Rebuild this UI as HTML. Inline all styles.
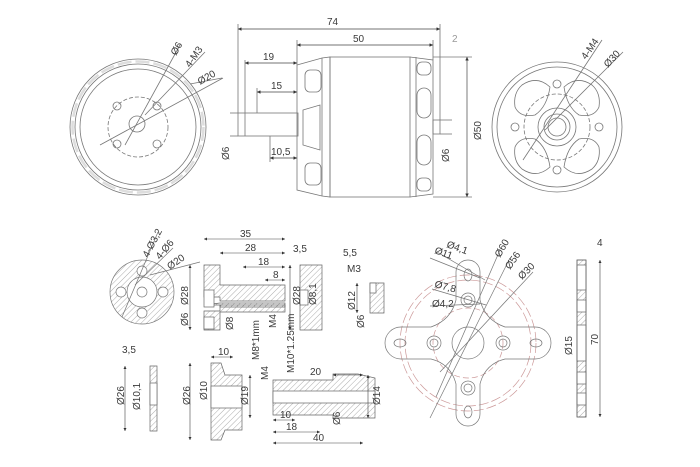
<!DOCTYPE html>
<html><head><meta charset="utf-8"><style>
html,body{margin:0;padding:0;background:#fff}
svg{display:block}
text{font-family:"Liberation Sans",sans-serif;font-size:10px;fill:#3a3a3a}
</style></head><body>
<svg width="700" height="467" viewBox="0 0 700 467" xmlns="http://www.w3.org/2000/svg">
<defs>
<pattern id="h" width="4" height="4" patternUnits="userSpaceOnUse" patternTransform="rotate(45)"><line x1="0" y1="0" x2="0" y2="4" stroke="#888" stroke-width="0.7"/></pattern>
<marker id="a" viewBox="0 0 6 6" refX="6" refY="3" markerWidth="5" markerHeight="5" orient="auto-start-reverse"><path d="M0,0L6,3L0,6z" fill="#333"/></marker>
</defs>
<g fill="none" stroke="#777" stroke-width="0.8">
<!-- left front view -->
<circle cx="138" cy="127" r="68"/><circle cx="138" cy="127" r="63"/><circle cx="138" cy="127" r="58"/>
<circle cx="138" cy="127" r="65.5" stroke-dasharray="14,4" stroke-width="2.5" stroke="#ddd"/>
<circle cx="138" cy="127" r="30" stroke-dasharray="4,2"/>
<circle cx="137" cy="124" r="8"/>
<circle cx="117" cy="106" r="4"/><circle cx="157" cy="106" r="4"/><circle cx="117" cy="144" r="4"/><circle cx="157" cy="144" r="4"/>
<line x1="100" y1="145" x2="223" y2="78"/><line x1="125" y1="145" x2="180" y2="45"/><line x1="145" y1="115" x2="205" y2="52"/>
<line x1="190" y1="84" x2="222" y2="78"/>
<!-- side view -->
<rect x="238" y="113" width="60" height="23"/>
<line x1="245" y1="113" x2="245" y2="136"/><line x1="270" y1="136" x2="270" y2="140"/>
<path d="M297,65 L322,58 L330,57 L330,197 L322,196 L297,190 Z"/>
<line x1="322" y1="58" x2="322" y2="196"/>
<rect x="330" y="57" width="80" height="140"/>
<path d="M410,57 L433,60 L433,194 L410,197"/><line x1="416" y1="57" x2="416" y2="197"/>
<rect x="433" y="120" width="7" height="14"/>
<rect x="305" y="70" width="16" height="22" rx="5"/><rect x="305" y="163" width="16" height="22" rx="5"/>
<path d="M303,110 L320,105 L320,150 L303,145 Z"/>
<rect x="417" y="88" width="14" height="30" rx="7"/><rect x="417" y="135" width="14" height="30" rx="7"/>
<rect x="417" y="62" width="14" height="13" rx="5"/><rect x="417" y="178" width="14" height="13" rx="5"/>
<line x1="238" y1="24" x2="238" y2="113"/><line x1="440" y1="24" x2="440" y2="120"/><line x1="297" y1="40" x2="297" y2="65"/><line x1="433" y1="40" x2="433" y2="60"/>
<line x1="245" y1="60" x2="245" y2="113"/><line x1="257" y1="88" x2="257" y2="113"/><line x1="270" y1="140" x2="270" y2="162"/>
<line x1="433" y1="57" x2="472" y2="57"/><line x1="433" y1="197" x2="472" y2="197"/>
<line x1="230" y1="113" x2="238" y2="113"/><line x1="230" y1="136" x2="238" y2="136"/>
<line x1="440" y1="120" x2="452" y2="120"/><line x1="440" y1="134" x2="452" y2="134"/>
<!-- right rear view -->
<circle cx="557" cy="127" r="65"/><circle cx="557" cy="127" r="60"/><circle cx="557" cy="127" r="33" stroke-dasharray="4,2"/>
<circle cx="557" cy="127" r="19"/><circle cx="557" cy="127" r="13"/><circle cx="557" cy="127" r="9"/>
<circle cx="557" cy="84" r="4"/><circle cx="557" cy="170" r="4"/><circle cx="515" cy="127" r="4"/><circle cx="599" cy="127" r="4"/>
<path d="M522,85 q15,-10 28,2 q-3,20 -15,28 q-15,3 -20,-8 q-2,-14 7,-22z"/>
<path d="M592,85 q-15,-10 -28,2 q3,20 15,28 q15,3 20,-8 q2,-14 -7,-22z"/>
<path d="M522,169 q15,10 28,-2 q-3,-20 -15,-28 q-15,-3 -20,8 q-2,14 7,22z"/>
<path d="M592,169 q-15,10 -28,-2 q3,-20 15,-28 q15,-3 20,8 q2,14 -7,22z"/>
<line x1="523" y1="160" x2="602" y2="40"/><line x1="545" y1="130" x2="623" y2="52"/>
</g>
<g stroke="#444" stroke-width="0.7" marker-start="url(#a)" marker-end="url(#a)">
<line x1="238" y1="29" x2="440" y2="29"/><line x1="297" y1="45" x2="433" y2="45"/>
<line x1="245" y1="63" x2="297" y2="63"/><line x1="257" y1="92" x2="297" y2="92"/><line x1="270" y1="158" x2="297" y2="158"/>
<line x1="467" y1="57" x2="467" y2="197"/>
</g>
<text x="327" y="25">74</text><text x="353" y="42">50</text><text x="452" y="42" style="fill:#999">2</text>
<text x="263" y="60">19</text><text x="271" y="89">15</text><text x="271" y="155">10,5</text>
<text transform="translate(481,140) rotate(-90)">Ø50</text>
<text transform="translate(229,160) rotate(-90)">Ø6</text><text transform="translate(449,162) rotate(-90)">Ø6</text>
<text transform="translate(176,56) rotate(-60)">Ø6</text><text transform="translate(190,68) rotate(-55)">4-M3</text><text transform="translate(200,85) rotate(-30)">Ø20</text>
<text transform="translate(586,60) rotate(-55)">4-M4</text><text transform="translate(608,68) rotate(-48)">Ø30</text>
<g fill="none" stroke="#777" stroke-width="0.7">
<circle cx="142" cy="292" r="32" fill="url(#h)"/><circle cx="142" cy="292" r="15" fill="#fff"/><circle cx="142" cy="292" r="5"/>
<circle cx="142" cy="271" r="5" fill="#fff"/><circle cx="142" cy="313" r="5" fill="#fff"/><circle cx="121" cy="292" r="5" fill="#fff"/><circle cx="163" cy="292" r="5" fill="#fff"/>
<line x1="122" y1="317" x2="158" y2="232"/><line x1="135" y1="285" x2="173" y2="248"/><line x1="150" y1="275" x2="200" y2="262"/>
</g>
<text transform="translate(148,258) rotate(-62)" font-size="9">4-Ø3,2</text><text transform="translate(160,260) rotate(-50)" font-size="9">4-Ø6</text><text transform="translate(170,270) rotate(-35)" font-size="9">Ø20</text>
<g stroke="#666" stroke-width="0.7">
<path d="M204,265 h16 v20 h65 v16 h-65 v-4 h-16 z" fill="url(#h)"/>
<path d="M204,305 h16 v2 h65 v-4 h-65 z" fill="url(#h)"/>
<path d="M204,311 h16 v-6 h65 v7 h-65 v18 h-16 z" fill="url(#h)"/>
<rect x="204" y="290" width="10" height="17" fill="#fff"/>
<rect x="204" y="317" width="10" height="12" fill="#fff"/>
<path d="M300,265 h22 v65 h-22 z" fill="url(#h)"/><rect x="300" y="290" width="8" height="15" fill="#fff"/>
<path d="M370,283 h14 v30 h-14 z" fill="url(#h)"/><rect x="370" y="283" width="6" height="10" fill="#fff"/>
<path d="M150,366 h7 v65 h-7 z" fill="url(#h)"/><rect x="150" y="383" width="7" height="22" fill="#fff"/>
<path d="M211,363 h10 l4,12 h17 v55 h-17 l-4,10 h-10 z" fill="url(#h)"/><rect x="211" y="386" width="31" height="22" fill="#fff"/>
<path d="M273,380 h60 v-6 h25 l17,4 v40 l-17,0 h-25 v-3 h-60 z" fill="url(#h)"/><rect x="273" y="391" width="102" height="12" fill="#fff"/>
<rect x="577" y="260" width="9" height="157" fill="url(#h)"/>
<rect x="577" y="265" width="9" height="25" fill="#fff"/><rect x="577" y="300" width="9" height="12" fill="#fff"/><rect x="577" y="325" width="9" height="36" fill="#fff"/><rect x="577" y="372" width="9" height="12" fill="#fff"/><rect x="577" y="393" width="9" height="12" fill="#fff"/>
<rect x="577" y="260" width="9" height="157" fill="none"/>
</g>
<g stroke="#444" stroke-width="0.6" marker-start="url(#a)" marker-end="url(#a)">
<line x1="204" y1="239" x2="285" y2="239"/><line x1="220" y1="253" x2="285" y2="253"/><line x1="243" y1="267" x2="285" y2="267"/><line x1="265" y1="280" x2="285" y2="280"/>
<line x1="190" y1="265" x2="190" y2="330"/><line x1="290" y1="265" x2="290" y2="330"/><line x1="357" y1="283" x2="357" y2="313"/>
<line x1="125" y1="366" x2="125" y2="431"/><line x1="190" y1="363" x2="190" y2="440"/><line x1="250" y1="375" x2="250" y2="418"/>
<line x1="368" y1="375" x2="368" y2="418"/><line x1="333" y1="375" x2="363" y2="375"/>
<line x1="273" y1="420" x2="295" y2="420"/><line x1="273" y1="432" x2="320" y2="432"/><line x1="273" y1="443" x2="363" y2="443"/>
<line x1="600" y1="260" x2="600" y2="417"/><line x1="211" y1="357" x2="233" y2="357"/>
</g>
<text x="240" y="237">35</text><text x="245" y="251">28</text><text x="258" y="265">18</text><text x="273" y="278">8</text>
<text x="293" y="252">3,5</text><text x="343" y="256">5,5</text><text x="347" y="272">M3</text><text x="122" y="353">3,5</text><text x="218" y="355">10</text>
<text x="310" y="375">20</text><text x="280" y="418">10</text><text x="286" y="430">18</text><text x="313" y="441">40</text>
<text x="597" y="246" font-size="8">4</text>
<g font-size="9">
<text transform="translate(188,305) rotate(-90)">Ø28</text><text transform="translate(188,326) rotate(-90)">Ø6</text>
<text transform="translate(233,330) rotate(-90)">Ø8</text><text transform="translate(259,360) rotate(-90)">M8*1mm</text><text transform="translate(276,328) rotate(-90)">M4</text>
<text transform="translate(300,305) rotate(-90)">Ø28</text><text transform="translate(316,305) rotate(-90)">Ø8,1</text>
<text transform="translate(355,310) rotate(-90)">Ø12</text><text transform="translate(364,328) rotate(-90)">Ø6</text>
<text transform="translate(124,405) rotate(-90)">Ø26</text><text transform="translate(140,410) rotate(-90)">Ø10,1</text>
<text transform="translate(190,405) rotate(-90)">Ø26</text><text transform="translate(207,400) rotate(-90)">Ø10</text><text transform="translate(248,405) rotate(-90)">Ø19</text>
<text transform="translate(268,380) rotate(-90)">M4</text><text transform="translate(294,373) rotate(-90)">M10*1.25mm</text>
<text transform="translate(340,425) rotate(-90)">Ø6</text><text transform="translate(380,405) rotate(-90)">Ø14</text>
<text transform="translate(572,355) rotate(-90)">Ø15</text><text transform="translate(598,345) rotate(-90)">70</text>
</g>
<g fill="none" stroke="#777" stroke-width="0.7">
<circle cx="468" cy="343" r="68" stroke="#c99" stroke-dasharray="10,3"/><circle cx="468" cy="343" r="63" stroke="#c99" stroke-dasharray="10,3"/><circle cx="468" cy="343" r="35" stroke="#c99" stroke-dasharray="6,3"/>
<path d="M456,272 a12,12 0 0 1 24,0 v28 q5,20 25,27 h30 a16,16 0 0 1 0,32 h-30 q-20,5 -25,25 v30 a12,12 0 0 1 -24,0 v-30 q-5,-20 -25,-25 h-30 a16,16 0 0 1 0,-32 h30 q20,-7 25,-27z"/>
<circle cx="468" cy="343" r="16"/>
<circle cx="468" cy="300" r="7"/><circle cx="468" cy="300" r="4"/><circle cx="468" cy="388" r="7"/><circle cx="468" cy="388" r="4"/>
<circle cx="434" cy="343" r="7"/><circle cx="434" cy="343" r="4"/><circle cx="503" cy="343" r="7"/><circle cx="503" cy="343" r="4"/>
<ellipse cx="468" cy="275" rx="4" ry="6"/><ellipse cx="468" cy="412" rx="4" ry="6"/><ellipse cx="400" cy="343" rx="6" ry="4"/><ellipse cx="536" cy="343" rx="6" ry="4"/>
<line x1="436" y1="397" x2="500" y2="250"/><line x1="430" y1="418" x2="510" y2="258"/><line x1="440" y1="372" x2="533" y2="272"/>
<line x1="437" y1="252" x2="485" y2="280"/><line x1="430" y1="258" x2="480" y2="278"/><line x1="432" y1="289" x2="486" y2="305"/><line x1="430" y1="306" x2="480" y2="304"/>
</g>
<g font-size="9">
<text transform="translate(446,247) rotate(20)">Ø4,1</text><text transform="translate(434,253) rotate(20)">Ø11</text>
<text transform="translate(434,287) rotate(15)">Ø7,8</text><text x="432" y="307">Ø4,2</text>
<text transform="translate(500,258) rotate(-60)">Ø60</text><text transform="translate(510,270) rotate(-55)">Ø56</text><text transform="translate(522,280) rotate(-45)">Ø30</text>
</g>
</svg>
</body></html>
